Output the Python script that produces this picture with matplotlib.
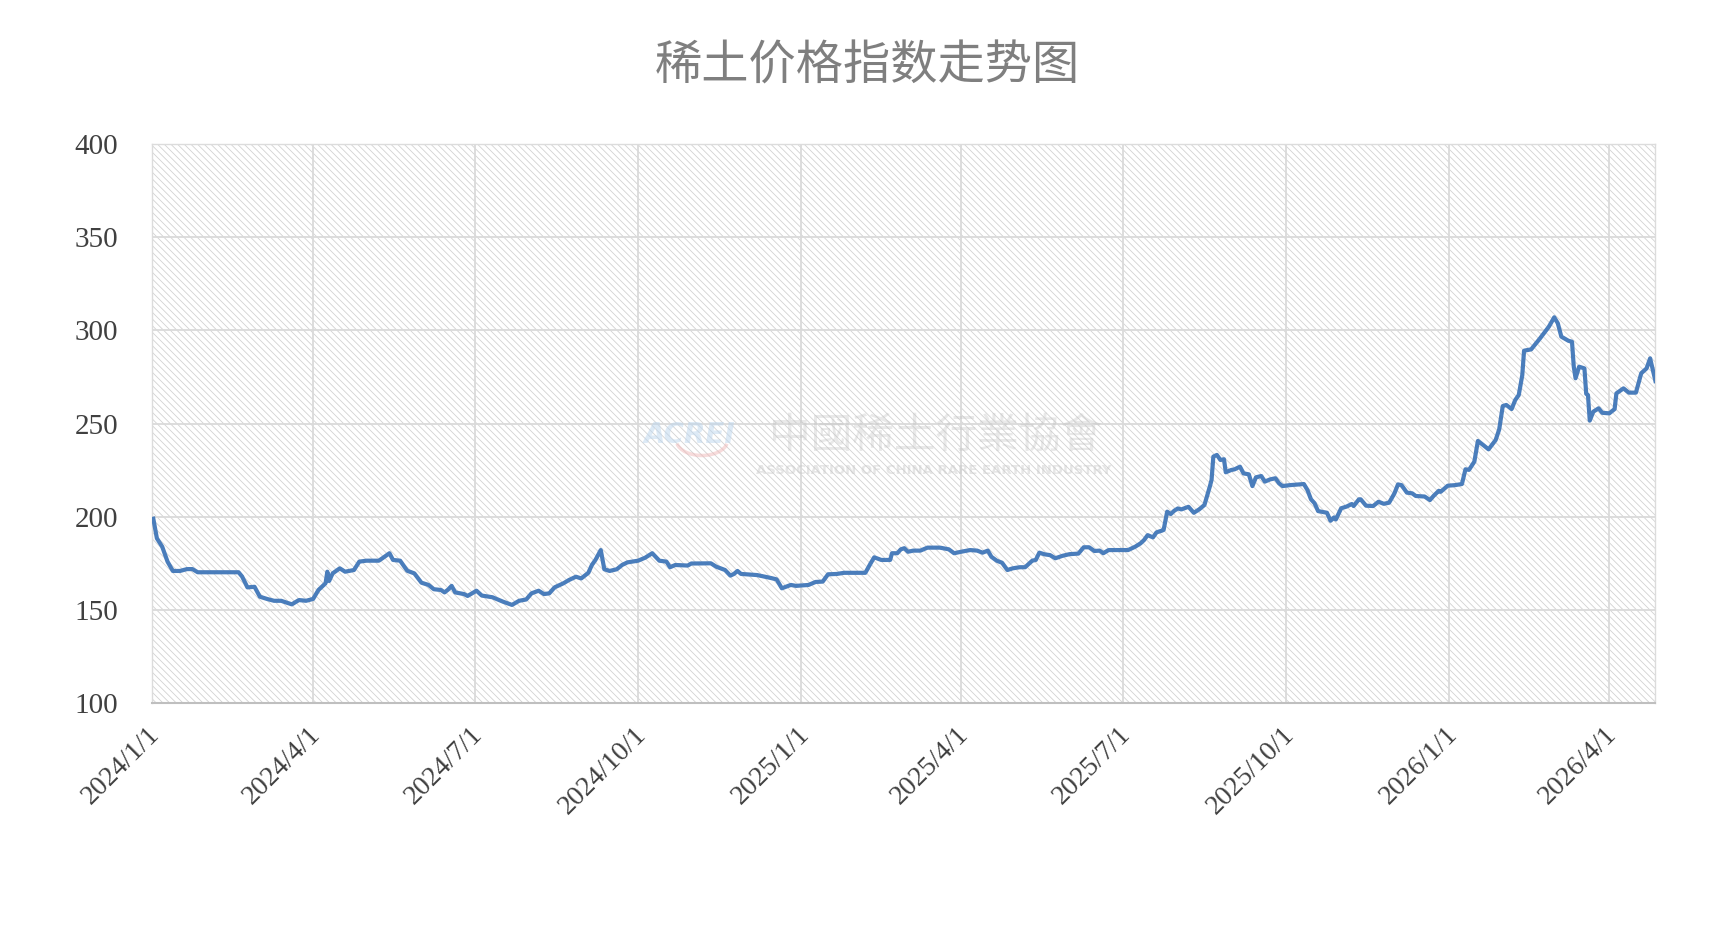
import numpy as np
import matplotlib
matplotlib.use("Agg")
import matplotlib.pyplot as plt
import matplotlib.dates as mdates
from matplotlib.patches import Rectangle, Arc
from matplotlib.transforms import ScaledTranslation

plt.rcParams['font.family'] = ['Noto Sans CJK SC', 'DejaVu Sans']
plt.rcParams['hatch.linewidth'] = 0.6

# Data: days since 2024-01-01 and the index value
start_date = np.datetime64('2024-01-01')
day_offset = [
    1, 3, 6, 9, 12, 16, 20, 23, 26, 49, 51, 54, 58, 61, 65, 69, 73, 79, 83, 87,
    91, 94, 98, 99, 100, 102, 106, 109, 114, 117, 121, 128, 130, 134, 136, 140,
    144, 148, 152, 156, 159, 163, 165, 167, 169, 171, 176, 178, 183, 186, 192,
    198, 203, 207, 211, 214, 218, 221, 224, 227, 232, 235, 239, 242, 246, 248,
    250, 253, 255, 258, 262, 265, 268, 274, 278, 282, 286, 290, 292, 295, 302,
    304, 306, 315, 318, 322, 323, 326, 328, 330, 332, 341, 348, 352, 355, 360,
    363, 370, 374, 378, 381, 386, 390, 402, 405, 407, 411, 416, 417, 420, 422,
    424, 426, 429, 433, 437, 444, 449, 452, 456, 461, 465, 468, 471, 473, 476,
    479, 482, 485, 489, 492, 496, 498, 500, 503, 506, 509, 513, 517, 522, 525,
    528, 531, 534, 536, 539, 550, 554, 557, 559, 561, 564, 566, 569, 570, 572,
    574, 576, 578, 580, 584, 587, 590, 593, 596, 597, 598, 600, 602, 604, 605,
    608, 610, 613, 615, 618, 620, 622, 625, 627, 630, 633, 635, 637, 641, 649,
    651, 653, 655, 657, 662, 664, 666, 667, 670, 673, 676, 677, 680, 681, 684,
    688, 691, 694, 697, 700, 702, 704, 707, 710, 712, 717, 720, 722, 725, 726,
    730, 734, 738, 740, 742, 745, 747, 750, 753, 757, 759, 761, 763, 766, 768,
    770, 772, 773, 777, 782, 787, 790, 792, 794, 798, 800, 801, 802, 804, 807,
    808, 809, 810, 812, 815, 817, 821, 824, 825, 829, 832, 836, 839, 842, 844,
    847,
]
index_value = [
    199, 188.5, 184, 176, 171, 171, 172, 172, 170.3, 170.3, 168, 162.2, 162.5,
    157.2, 156, 155, 155, 153.1, 155.4, 155, 156, 160.8, 164.4, 170.6, 165.6,
    169.7, 172.4, 170.6, 171.5, 176, 176.5, 176.5, 177.8, 180.5, 176.9, 176.5,
    171.1, 169.7, 164.7, 163.5, 161.2, 160.8, 159.5, 161, 163, 159.5, 158.6,
    157.6, 160.4, 157.8, 156.9, 154.5, 152.8, 155, 155.7, 159, 160.4, 158.6,
    159, 162.2, 164.4, 166.1, 167.9, 167, 170, 174.2, 176.9, 182.2, 171.9, 171,
    171.9, 174.2, 175.6, 176.5, 178.1, 180.5, 176.5, 176, 173, 174.2, 173.9,
    175, 175, 175.1, 173.3, 171.9, 171.5, 168.5, 169.4, 171, 169.4, 168.8,
    167.4, 166.5, 161.7, 163.5, 163, 163.5, 165.1, 165.3, 169.2, 169.4, 170,
    170, 175.1, 178.3, 176.9, 176.9, 180.5, 180.5, 182.6, 183.2, 181.3, 181.9,
    181.9, 183.5, 183.5, 182.6, 180.5, 181.3, 182.2, 181.9, 180.8, 181.9, 178.6,
    176.5, 175.4, 171.5, 172.4, 173, 173, 176.5, 176.9, 180.8, 179.9, 179.5,
    177.8, 179.1, 180, 180.3, 183.7, 183.7, 181.7, 181.9, 180.5, 182.2, 182.2,
    184, 185.8, 187.6, 190.2, 189, 191.7, 192.6, 193, 202.8, 201.5, 203.3,
    204.5, 204, 205.4, 202.2, 204, 206.4, 216.2, 219.8, 232.3, 233.2, 230.5,
    230.9, 223.9, 225.1, 225.5, 226.9, 223.3, 222.8, 216.5, 221.2, 221.9, 218.9,
    220.1, 220.7, 218, 216.5, 217, 217.6, 214.4, 209.4, 207.3, 203.1, 202.2,
    197.9, 199.7, 198.6, 204.6, 205.5, 206.9, 205.8, 209.4, 209.4, 206, 205.8,
    208.1, 207, 207.6, 212.6, 217.4, 217, 213, 212.6, 211.2, 210.9, 209, 211.2,
    214, 213.4, 216.7, 217, 217.6, 225.5, 225.2, 229.6, 240.7, 238.5, 236.2,
    241.2, 246.9, 259.4, 260, 257.8, 262.6, 265.3, 276, 289.1, 289.8, 295.7,
    302, 307, 303.8, 296.6, 294.4, 293.9, 280.5, 274.3, 280.5, 279.6, 266,
    265.3, 251.6, 256.4, 258.2, 255.8, 255.5, 257.8, 266.2, 268.9, 266.6, 266.6,
    277, 279.6, 285, 272.8,
]
y_ticks = [100, 150, 200, 250, 300, 350, 400]
title = '稀土价格指数走势图'

dates = start_date + np.array(day_offset).astype('timedelta64[D]')

fig = plt.figure(figsize=(17.34, 9.5), dpi=100)
ax = fig.add_axes([0.0874, 0.2596, 0.8673, 0.5890])

# hatched plot area, like the Excel pattern fill
ax.patch.set_facecolor('white')
ax.add_patch(Rectangle((0, 0), 1, 1, transform=ax.transAxes, facecolor='white',
                       edgecolor='#d2d2d2', hatch='\\\\\\\\\\', linewidth=0, zorder=0.1))

ax.plot(dates, index_value, color='#4a7dbb', linewidth=3.0, zorder=3,
        solid_joinstyle='round')

ax.set_xlim(start_date, start_date + np.timedelta64(847, 'D'))
ax.set_ylim(100, 400)
ax.set_yticks(y_ticks)

ax.xaxis.set_major_locator(mdates.MonthLocator(bymonth=[1, 4, 7, 10]))
ax.xaxis.set_major_formatter(
    plt.FuncFormatter(lambda x, pos: '{0.year}/{0.month}/{0.day}'.format(mdates.num2date(x))))

ax.set_axisbelow(True)
ax.grid(True, color='#dadada', linewidth=1.3, zorder=0.5)

for s in ['left', 'right', 'top']:
    ax.spines[s].set_color('#dcdcdc')
    ax.spines[s].set_linewidth(1.0)
ax.spines['bottom'].set_color('#bfbfbf')
ax.spines['bottom'].set_linewidth(1.5)

ax.tick_params(axis='both', length=0)
ax.tick_params(axis='y', pad=24, labelsize=21, labelcolor='#404040')
ax.tick_params(axis='x', pad=20, labelsize=20, labelcolor='#404040')
for lab in ax.get_yticklabels():
    lab.set_family('Liberation Serif')
offset = ScaledTranslation(0.04, 0, fig.dpi_scale_trans)
for lab in ax.get_xticklabels():
    lab.set_family('Liberation Serif')
    lab.set_rotation(45)
    lab.set_ha('right')
    lab.set_va('center')
    lab.set_rotation_mode('anchor')
    lab.set_transform(lab.get_transform() + offset)

# faint association watermark
ax.text(0.358, 0.480, 'ACREI', transform=ax.transAxes, fontsize=20, fontweight='bold',
        fontstyle='italic', family='DejaVu Sans', color='#bcd6ee', alpha=0.5,
        ha='center', va='center', zorder=1)
ax.add_patch(Arc((0.366, 0.470), 0.034, 0.054, theta1=200, theta2=340,
                 transform=ax.transAxes, color='#f0b8b8', alpha=0.5, linewidth=2.5, zorder=1))
ax.text(0.521, 0.478, '中國稀土行業協會', transform=ax.transAxes, fontsize=30,
        family=['Noto Sans CJK TC', 'DejaVu Sans'], color='#c0c0c0', alpha=0.35,
        ha='center', va='center', zorder=1)
ax.text(0.520, 0.416, 'ASSOCIATION OF CHINA RARE EARTH INDUSTRY', transform=ax.transAxes,
        fontsize=9.5, fontweight='bold', family='DejaVu Sans', color='#c8c8c8', alpha=0.45,
        ha='center', va='center', zorder=1)

fig.text(0.5, 0.930, title, fontsize=34, color='#7f7f7f', ha='center', va='center')

fig.savefig('out.png', dpi=100)
